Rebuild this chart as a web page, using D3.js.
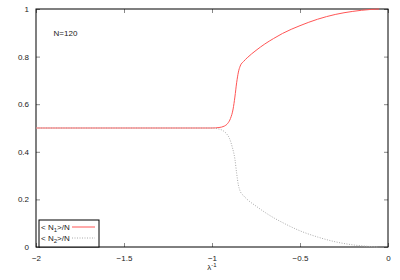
<!DOCTYPE html>
<html>
<head>
<meta charset="utf-8">
<script src="https://cdn.jsdelivr.net/npm/d3@7"></script>
<style>
  body { margin: 0; background: #fff; }
  svg { font-family: "Liberation Sans", Arial, sans-serif; }
</style>
</head>
<body>
<div id="chart"></div>
<script>
// values
const lambdaN1 = [-2, -1.5, -1.0, -0.96, -0.93, -0.91, -0.895, -0.88, -0.87, -0.86, -0.85, -0.84, -0.82, -0.8, -0.75, -0.7, -0.65, -0.6, -0.5, -0.4, -0.3, -0.2, -0.1, -0.05];
const n1 = [0.5, 0.5, 0.5, 0.502, 0.508, 0.52, 0.54, 0.58, 0.63, 0.69, 0.735, 0.76, 0.78, 0.795, 0.826, 0.853, 0.876, 0.897, 0.93, 0.957, 0.977, 0.99, 0.998, 1.0];
const lambdaN2 = [-2, -1.5, -1.0, -0.97, -0.94, -0.92, -0.9, -0.885, -0.87, -0.86, -0.85, -0.84, -0.82, -0.8, -0.75, -0.7, -0.65, -0.6, -0.5, -0.4, -0.3, -0.2, -0.1, -0.06];
const n2 = [0.5, 0.5, 0.5, 0.497, 0.49, 0.478, 0.455, 0.42, 0.37, 0.31, 0.26, 0.235, 0.215, 0.2, 0.172, 0.146, 0.123, 0.103, 0.068, 0.042, 0.022, 0.009, 0.002, 0.0];
const xTicks = [-2, -1.5, -1, -0.5, 0];
const yTicks = [0, 0.2, 0.4, 0.6, 0.8, 1];

const W = 400, H = 280;
const margin = {top: 9, right: 12, bottom: 33, left: 36};
const w = W - margin.left - margin.right;
const h = H - margin.top - margin.bottom;

const svg = d3.select("#chart").append("svg")
    .attr("width", W).attr("height", H);
const g = svg.append("g").attr("transform", `translate(${margin.left},${margin.top})`);

const x = d3.scaleLinear().domain([-2, 0]).range([0, w]);
const y = d3.scaleLinear().domain([0, 1]).range([h, 0]);

// axes, ticks pointing inward, mirrored on top and right
const fmt = d => d3.format("")(d);
g.append("g").attr("transform", `translate(0,${h})`)
    .call(d3.axisBottom(x).tickValues(xTicks).tickFormat(fmt).tickSizeInner(-4).tickSizeOuter(0).tickPadding(8));
g.append("g")
    .call(d3.axisLeft(y).tickValues(yTicks).tickFormat(fmt).tickSizeInner(-4).tickSizeOuter(0).tickPadding(7));
g.append("g")
    .call(d3.axisTop(x).tickValues(xTicks).tickFormat("").tickSizeInner(-4).tickSizeOuter(0));
g.append("g").attr("transform", `translate(${w},0)`)
    .call(d3.axisRight(y).tickValues(yTicks).tickFormat("").tickSizeInner(-4).tickSizeOuter(0));
g.selectAll(".domain").remove();
g.selectAll(".tick line").attr("stroke", "#888");
g.selectAll(".tick text").attr("font-size", 8).attr("fill", "#222")
    .attr("font-family", "Liberation Sans, Arial, sans-serif");

g.append("rect").attr("width", w).attr("height", h)
    .attr("fill", "none").attr("stroke", "#000").attr("stroke-width", 1);

// axis label
const xl = svg.append("text").attr("x", margin.left + x(-1)).attr("y", 270)
    .attr("text-anchor", "middle").attr("font-size", 8).attr("fill", "#222");
xl.append("tspan").text("λ");
xl.append("tspan").attr("dy", -3).attr("font-size", 6).text("-1");

// annotation
g.append("text").attr("x", x(-1.9)).attr("y", y(0.9) + 3)
    .attr("font-size", 8).attr("fill", "#222").text("N=120");

const line = d3.line().x(d => x(d[0])).y(d => y(d[1])).curve(d3.curveMonotoneX);

const redC = "#f55", grayC = "#aaa";
g.append("path").datum(d3.zip(lambdaN1, n1))
    .attr("fill", "none").attr("stroke", redC).attr("stroke-width", 1)
    .attr("d", line);
g.append("path").datum(d3.zip(lambdaN2, n2))
    .attr("fill", "none").attr("stroke", grayC).attr("stroke-width", 1)
    .attr("stroke-dasharray", "1,1.5")
    .attr("d", line);

// legend
const lg = g.append("g").attr("transform", `translate(3,${h - 27})`);
lg.append("rect").attr("width", 60).attr("height", 27)
    .attr("fill", "#fff").attr("stroke", "#000").attr("stroke-width", 1);
const items = [{n: "1", c: redC, dash: null}, {n: "2", c: grayC, dash: "1,1.5"}];
items.forEach((it, i) => {
    const t = lg.append("text").attr("x", 2).attr("y", 10 + i * 11).attr("font-size", 8).attr("fill", "#222");
    t.append("tspan").text("< N");
    t.append("tspan").attr("dy", 2).attr("font-size", 6).text(it.n);
    t.append("tspan").attr("dy", -2).text(">/N");
    lg.append("line").attr("x1", 33).attr("x2", 56)
        .attr("y1", 7 + i * 11).attr("y2", 7 + i * 11)
        .attr("stroke", it.c).attr("stroke-width", 1)
        .attr("stroke-dasharray", it.dash);
});
</script>
</body>
</html>
